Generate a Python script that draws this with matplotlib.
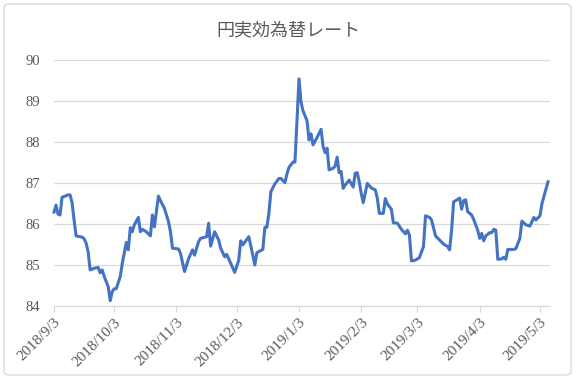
import matplotlib
matplotlib.use('Agg')
import matplotlib.pyplot as plt
from matplotlib.patches import FancyBboxPatch
import pandas as pd

# days since 2018/9/3 and index values
days = [0, 1, 2, 3, 4, 7, 8, 9, 10, 11, 14, 15, 16, 17, 18, 20, 22, 23, 24, 25,
        27, 28, 29, 30, 31, 33, 34, 35, 36, 37, 38, 39, 40, 42, 43, 44, 46, 48, 49, 50,
        52, 53, 55, 57, 58, 59, 62, 63, 65, 67, 69, 70, 72, 73, 76, 77, 78, 80, 82, 83,
        85, 86, 88, 90, 92, 93, 94, 97, 99, 100, 101, 104, 105, 106, 107, 108, 110, 112, 113, 115,
        116, 117, 119, 120, 122, 123, 124, 126, 127, 128, 129, 131, 133, 134, 135, 136, 137, 139, 140, 141,
        142, 143, 144, 145, 147, 149, 150, 151, 152, 153, 154, 156, 158, 160, 161, 162, 164, 165, 166, 168,
        169, 171, 173, 175, 176, 177, 178, 180, 182, 183, 184, 185, 187, 188, 190, 192, 194, 196, 197, 198,
        199, 201, 202, 203, 204, 205, 206, 208, 209, 211, 212, 213, 214, 215, 217, 218, 219, 220, 221, 223,
        224, 225, 226, 229, 230, 232, 233, 235, 237, 239, 240, 242, 243, 246]
values = [86.29, 86.46, 86.24, 86.22, 86.65, 86.71, 86.71, 86.52, 86.10, 85.71, 85.68, 85.64, 85.53, 85.32, 84.88, 84.92, 84.94, 84.81, 84.88, 84.72,
          84.47, 84.13, 84.35, 84.42, 84.42, 84.72, 85.04, 85.30, 85.55, 85.37, 85.91, 85.81, 85.98, 86.16, 85.81, 85.87, 85.81, 85.71, 86.22, 85.93,
          86.68, 86.57, 86.38, 86.06, 85.81, 85.41, 85.39, 85.28, 84.84, 85.15, 85.37, 85.24, 85.57, 85.65, 85.69, 86.02, 85.46, 85.81, 85.61, 85.41,
          85.20, 85.26, 85.04, 84.82, 85.12, 85.59, 85.49, 85.69, 85.24, 85.00, 85.30, 85.38, 85.92, 85.92, 86.26, 86.79, 86.98, 87.11, 87.11, 87.01,
          87.22, 87.38, 87.51, 87.51, 89.54, 88.98, 88.76, 88.52, 88.05, 88.20, 87.93, 88.11, 88.31, 87.89, 87.74, 87.85, 87.32, 87.36, 87.41, 87.63,
          87.25, 87.28, 86.87, 86.95, 87.07, 86.90, 87.24, 87.25, 87.03, 86.75, 86.52, 86.99, 86.88, 86.83, 86.63, 86.26, 86.26, 86.62, 86.49, 86.36,
          86.03, 86.02, 85.87, 85.76, 85.85, 85.73, 85.10, 85.12, 85.18, 85.32, 85.45, 86.20, 86.16, 86.10, 85.71, 85.61, 85.51, 85.45, 85.37, 85.85,
          86.54, 86.60, 86.63, 86.36, 86.57, 86.59, 86.30, 86.22, 86.11, 85.85, 85.65, 85.77, 85.59, 85.71, 85.79, 85.79, 85.87, 85.85, 85.14, 85.15,
          85.19, 85.14, 85.38, 85.38, 85.40, 85.65, 86.07, 85.98, 85.95, 86.16, 86.10, 86.20, 86.50, 87.03]

tick_dates = ['2018-09-03', '2018-10-03', '2018-11-03', '2018-12-03', '2019-01-03',
              '2019-02-03', '2019-03-03', '2019-04-03', '2019-05-03']
y_ticks = [84, 85, 86, 87, 88, 89, 90]
title = '円実効為替レート'

start = pd.Timestamp('2018-09-03')
dates = [start + pd.Timedelta(days=d) for d in days]
ticks = pd.to_datetime(tick_dates)

gray_text = '#595959'
grid_c = '#D9D9D9'

fig = plt.figure(figsize=(5.75, 3.79), dpi=100)
ax = fig.add_axes([54 / 575, 1 - 306 / 379, 496 / 575, 246 / 379])

ax.plot(dates, values, color='#4472C4', lw=2.2, solid_joinstyle='round', zorder=3, clip_on=False)

ax.set_ylim(84, 90)
ax.set_yticks(y_ticks)
ax.set_xlim(start, start + pd.Timedelta(days=247))
ax.set_xticks(ticks)
ax.set_xticklabels([f'{t.year}/{t.month}/{t.day}' for t in ticks],
                   rotation=45, ha='right', rotation_mode='anchor')

ax.grid(axis='y', color=grid_c, lw=0.9)
ax.set_axisbelow(True)
for s in ['left', 'right', 'top']:
    ax.spines[s].set_visible(False)
ax.spines['bottom'].set_color(grid_c)
ax.tick_params(axis='y', length=0, pad=10, labelsize=10.5, labelcolor=gray_text)
ax.tick_params(axis='x', length=4, color=grid_c, pad=3, labelsize=11, labelcolor=gray_text)
for lbl in ax.get_xticklabels() + ax.get_yticklabels():
    lbl.set_family('Liberation Serif')

fig.text(288 / 575, 1 - 30 / 379, title, ha='center', va='center', fontsize=13,
         color=gray_text, family=['Noto Sans CJK JP', 'DejaVu Sans'])

border = FancyBboxPatch((4 / 575, 4 / 379), 567 / 575, 371 / 379, boxstyle='round,pad=0,rounding_size=0.01',
                        transform=fig.transFigure, fill=False, edgecolor=grid_c, lw=1)
fig.patches.append(border)

fig.savefig('out.png', dpi=100)
